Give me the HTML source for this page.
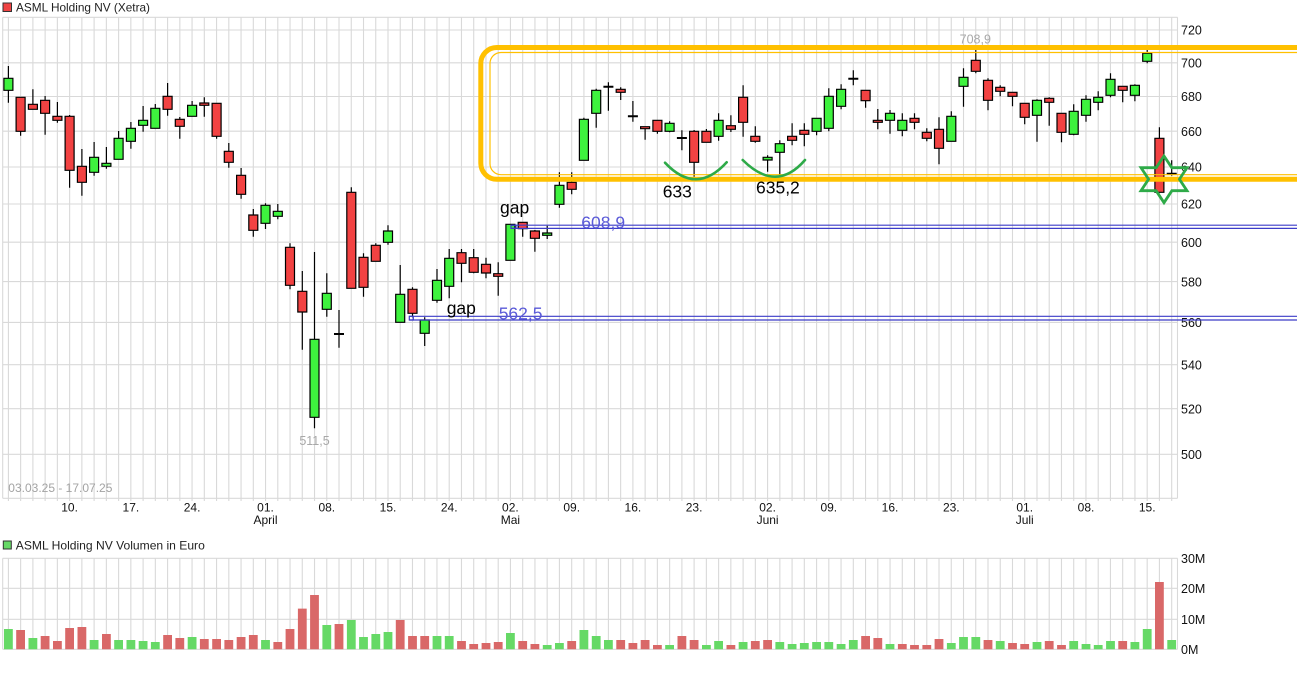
<!DOCTYPE html>
<html>
<head>
<meta charset="utf-8">
<style>
html,body{margin:0;padding:0;background:#fff;width:1297px;height:678px;overflow:hidden;}
svg{display:block;font-family:"Liberation Sans",Arial,sans-serif;}
</style>
</head>
<body>
<svg width="1297" height="678" viewBox="0 0 1297 678" xmlns="http://www.w3.org/2000/svg">
<rect width="1297" height="678" fill="#fff"/>
<rect x="3" y="3" width="8.5" height="8.5" fill="#f04343" stroke="#333" stroke-width="1"/>
<text x="16" y="11.3" font-size="12" fill="#222" textLength="134" lengthAdjust="spacingAndGlyphs">ASML Holding NV (Xetra)</text>
<rect x="3.3" y="541" width="8" height="8" fill="#66d966" stroke="#333" stroke-width="1"/>
<text x="15.8" y="549.3" font-size="12" fill="#222" textLength="189" lengthAdjust="spacingAndGlyphs">ASML Holding NV Volumen in Euro</text>

<g stroke="#d9d9d9" fill="none">
<line x1="7.85" y1="259.15" x2="1177" y2="259.15" stroke-width="483.7" stroke-dasharray="1.1 11.145"/>
<line x1="7.85" y1="603.8" x2="1177" y2="603.8" stroke-width="91" stroke-dasharray="1.1 11.145"/>
<path stroke-width="1.1" d="M2.7 17.3H1177.5M2.7 30H1177.5M2.7 62.8H1177.5M2.7 96.5H1177.5M2.7 131.2H1177.5M2.7 167H1177.5M2.7 204H1177.5M2.7 242.2H1177.5M2.7 281.6H1177.5M2.7 322.4H1177.5M2.7 364.7H1177.5M2.7 408.7H1177.5M2.7 454.3H1177.5M2.7 498.3H1177.5M2.7 17.3V498.3M1177.5 17.3V498.3M2.7 558.3H1177.5M2.7 588.3H1177.5M2.7 619.3H1177.5M2.7 649.3H1177.5M2.7 558.3V649.3M1177.5 558.3V649.3"/>
</g>

<g font-size="12.5" fill="#111">
<text x="1181" y="34.7">720</text>
<text x="1181" y="67.5">700</text>
<text x="1181" y="101.2">680</text>
<text x="1181" y="135.9">660</text>
<text x="1181" y="171.7">640</text>
<text x="1181" y="208.7">620</text>
<text x="1181" y="246.9">600</text>
<text x="1181" y="286.3">580</text>
<text x="1181" y="327.1">560</text>
<text x="1181" y="369.4">540</text>
<text x="1181" y="413.4">520</text>
<text x="1181" y="459">500</text>
<text x="1181" y="563.2">30M</text>
<text x="1181" y="593.2">20M</text>
<text x="1181" y="624.2">10M</text>
<text x="1181" y="654.2">0M</text>
</g>
<g font-size="12" fill="#111" text-anchor="middle">
<text x="69.6" y="511.7">10.</text>
<text x="130.9" y="511.7">17.</text>
<text x="192.1" y="511.7">24.</text>
<text x="265.5" y="511.7">01.</text>
<text x="326.8" y="511.7">08.</text>
<text x="388" y="511.7">15.</text>
<text x="449.2" y="511.7">24.</text>
<text x="510.4" y="511.7">02.</text>
<text x="571.7" y="511.7">09.</text>
<text x="632.9" y="511.7">16.</text>
<text x="694.1" y="511.7">23.</text>
<text x="767.6" y="511.7">02.</text>
<text x="828.8" y="511.7">09.</text>
<text x="890" y="511.7">16.</text>
<text x="951.3" y="511.7">23.</text>
<text x="1024.7" y="511.7">01.</text>
<text x="1086" y="511.7">08.</text>
<text x="1147.2" y="511.7">15.</text>
<text x="265.5" y="524">April</text>
<text x="510.4" y="524">Mai</text>
<text x="767.6" y="524">Juni</text>
<text x="1024.7" y="524">Juli</text>
</g>
<text x="8.3" y="492" font-size="12" fill="#a3a3a3">03.03.25 - 17.07.25</text>

<path fill="#66d966" d="M4 649.3v-20.3h8.8v20.3zM28.5 649.3v-11.3h8.8v11.3zM89.7 649.3v-9.3h8.8v9.3zM114.2 649.3v-9.3h8.8v9.3zM126.5 649.3v-9.3h8.8v9.3zM138.7 649.3v-8.3h8.8v8.3zM150.9 649.3v-7.3h8.8v7.3zM187.7 649.3v-12.3h8.8v12.3zM261.1 649.3v-9.3h8.8v9.3zM322.4 649.3v-24.3h8.8v24.3zM346.9 649.3v-29.3h8.8v29.3zM359.1 649.3v-12.3h8.8v12.3zM371.4 649.3v-15.3h8.8v15.3zM383.6 649.3v-17.3h8.8v17.3zM432.6 649.3v-13.3h8.8v13.3zM444.8 649.3v-13.3h8.8v13.3zM506 649.3v-16.3h8.8v16.3zM542.8 649.3v-4.3h8.8v4.3zM555 649.3v-6.3h8.8v6.3zM579.5 649.3v-19.3h8.8v19.3zM591.8 649.3v-13.3h8.8v13.3zM604 649.3v-9.3h8.8v9.3zM665.2 649.3v-4.3h8.8v4.3zM702 649.3v-4.3h8.8v4.3zM714.2 649.3v-8.3h8.8v8.3zM738.7 649.3v-7.3h8.8v7.3zM775.4 649.3v-7.3h8.8v7.3zM787.7 649.3v-5.3h8.8v5.3zM799.9 649.3v-6.3h8.8v6.3zM812.2 649.3v-7.3h8.8v7.3zM824.4 649.3v-7.3h8.8v7.3zM836.7 649.3v-5.3h8.8v5.3zM848.9 649.3v-9.3h8.8v9.3zM885.6 649.3v-5.3h8.8v5.3zM946.9 649.3v-6.3h8.8v6.3zM959.1 649.3v-12.3h8.8v12.3zM971.4 649.3v-12.3h8.8v12.3zM995.8 649.3v-8.3h8.8v8.3zM1032.6 649.3v-7.3h8.8v7.3zM1069.3 649.3v-8.3h8.8v8.3zM1081.6 649.3v-5.3h8.8v5.3zM1093.8 649.3v-4.3h8.8v4.3zM1106.1 649.3v-8.3h8.8v8.3zM1130.5 649.3v-7.3h8.8v7.3zM1142.8 649.3v-20.3h8.8v20.3zM1167.3 649.3v-9.3h8.8v9.3z"/>
<path fill="#d96868" d="M16.2 649.3v-19.3h8.8v19.3zM40.7 649.3v-13.3h8.8v13.3zM53 649.3v-8.3h8.8v8.3zM65.2 649.3v-21.3h8.8v21.3zM77.5 649.3v-22.3h8.8v22.3zM102 649.3v-15.3h8.8v15.3zM163.2 649.3v-14.3h8.8v14.3zM175.4 649.3v-11.3h8.8v11.3zM199.9 649.3v-10.3h8.8v10.3zM212.2 649.3v-10.3h8.8v10.3zM224.4 649.3v-9.3h8.8v9.3zM236.7 649.3v-12.3h8.8v12.3zM248.9 649.3v-14.3h8.8v14.3zM273.4 649.3v-7.3h8.8v7.3zM285.6 649.3v-20.3h8.8v20.3zM297.9 649.3v-40.7h8.8v40.7zM310.1 649.3v-54.3h8.8v54.3zM334.6 649.3v-25.3h8.8v25.3zM395.8 649.3v-29.3h8.8v29.3zM408.1 649.3v-13.3h8.8v13.3zM420.3 649.3v-13.3h8.8v13.3zM457.1 649.3v-8.3h8.8v8.3zM469.3 649.3v-5.3h8.8v5.3zM481.6 649.3v-6.3h8.8v6.3zM493.8 649.3v-7.3h8.8v7.3zM518.3 649.3v-8.3h8.8v8.3zM530.5 649.3v-5.3h8.8v5.3zM567.3 649.3v-8.3h8.8v8.3zM616.3 649.3v-9.3h8.8v9.3zM628.5 649.3v-6.3h8.8v6.3zM640.7 649.3v-9.3h8.8v9.3zM653 649.3v-4.3h8.8v4.3zM677.5 649.3v-13.3h8.8v13.3zM689.7 649.3v-9.3h8.8v9.3zM726.5 649.3v-4.3h8.8v4.3zM750.9 649.3v-8.3h8.8v8.3zM763.2 649.3v-9.3h8.8v9.3zM861.2 649.3v-13.3h8.8v13.3zM873.4 649.3v-11.3h8.8v11.3zM897.9 649.3v-5.3h8.8v5.3zM910.1 649.3v-4.3h8.8v4.3zM922.4 649.3v-4.3h8.8v4.3zM934.6 649.3v-10.3h8.8v10.3zM983.6 649.3v-9.3h8.8v9.3zM1008.1 649.3v-6.3h8.8v6.3zM1020.3 649.3v-5.3h8.8v5.3zM1044.8 649.3v-8.3h8.8v8.3zM1057.1 649.3v-4.3h8.8v4.3zM1118.3 649.3v-8.3h8.8v8.3zM1155 649.3v-67.3h8.8v67.3z"/>

<path fill="none" stroke="#000" stroke-width="1.2" d="M8.4 66V102.7M20.6 97.3V135.7M32.9 89.3V109.3M45.1 96V134.7M57.4 102V122.7M69.6 115V187.7M81.9 149V195.7M94.1 142V175.7M106.4 147V168.7M118.6 131V159.3M130.9 122V148.7M143.1 106V131.7M155.3 104V128.3M167.6 83V115.7M179.8 117V138.7M192.1 101V116.3M204.3 97.3V116.7M216.6 103.3V138.7M228.8 143V167.7M241.1 168V198.7M253.3 209V236.7M265.5 203.3V229M277.8 204V219.3M290 243.3V289.3M302.3 271V349.7M314.5 252V428.3M326.8 273.3V316.7M339 310V347.7M351.3 187.3V288.3M363.5 253.3V296.7M375.8 243.3V261.3M388 225.3V244.7M400.2 265V322.3M412.5 287.3V317.3M424.7 317.3V346M437 269V302.7M449.2 249V298.3M461.5 249V282.3M473.7 249V273.3M486 257.7V278.3M498.2 262.3V295.7M522.7 222.3V236.7M534.9 230V251.7M547.2 225.7V239M559.4 172.3V207.7M571.7 172.3V194.3M583.9 117.7V160.3M596.2 88.7V127.7M608.4 82.3V110.7M620.7 87.3V100M632.9 101V121.7M645.1 126.7V139.7M657.4 120.3V133.7M669.6 121.3V132.3M681.9 130.3V150.3M694.1 130V176.7M706.4 129V142.3M718.6 113.3V140.7M730.9 115.3V132M743.1 85.3V136.7M755.3 126.3V142.7M767.6 155.3V171.7M779.8 140.3V176.7M792.1 123.3V145.3M804.3 123.3V146.3M816.6 118.3V135.3M828.8 88.3V131.3M841.1 84.3V109.3M853.3 70.3V85.3M865.6 90.3V107.7M877.8 109V129.3M890 110V133.7M902.3 113.3V136.3M914.5 113.3V129.3M926.8 128.3V141.3M939 117.3V164.3M951.3 111.3V141.3M963.5 68.3V106.7M975.8 50V73.3M988 78.3V110.3M1000.2 85.3V96.3M1012.5 92.3V106.3M1024.7 103.3V124.3M1037 99.3V141.7M1049.2 97.3V125.7M1061.5 113.3V142.3M1073.7 104.3V135.3M1086 95.3V121.7M1098.2 91.3V110.3M1110.5 73.3V97.3M1122.7 86.3V102.3M1134.9 84.3V101.3M1147.2 50V63.3M1159.4 127.3V192.3M1171.7 160.3V175.7"/>
<path fill="none" stroke="#000" stroke-width="2" d="M334 334H344M603.4 86.7H613.4M627.9 116.3H637.9M676.9 138H686.9M848.3 78.7H858.3M1166.7 173.7H1176.7"/>

<path fill="#f24242" stroke="#000" stroke-width="1.2" d="M16.1 97.3h9v34h-9zM28.4 104.3h9v5h-9zM40.6 100.3h9v13h-9zM52.9 116.3h9v4h-9zM65.1 116.3h9v54h-9zM77.4 166.3h9v16h-9zM163.1 96.3h9v13h-9zM175.3 119.3h9v7h-9zM199.8 103h9v2.3h-9zM212.1 103.3h9v33h-9zM224.3 151.3h9v11h-9zM236.6 175.3h9v19h-9zM248.8 215h9v15.3h-9zM285.5 247.3h9v38h-9zM297.8 291.3h9v20.7h-9zM346.8 192.3h9v96h-9zM359 257.3h9v30h-9zM371.3 245.3h9v16h-9zM408 289.3h9v24h-9zM457 252.7h9v10.6h-9zM469.2 257.7h9v14.6h-9zM481.5 264.3h9v8.7h-9zM493.7 273.7h9v2.6h-9zM518.2 222.3h9v6.4h-9zM530.4 231h9v7.3h-9zM567.2 182.3h9v7h-9zM616.2 89.3h9v3h-9zM640.6 126.7h9v2h-9zM652.9 120.3h9v11h-9zM689.6 131.3h9v31h-9zM701.9 131.3h9v11h-9zM726.4 125.7h9v3.6h-9zM738.6 97.3h9v25h-9zM750.8 136.3h9v5h-9zM787.6 136.3h9v4h-9zM799.8 130.3h9v4h-9zM861.1 90.3h9v10.4h-9zM873.3 120.3h9v2h-9zM910 118.3h9v4h-9zM922.3 132.3h9v6h-9zM934.5 129.3h9v19h-9zM971.3 60.3h9v11h-9zM983.5 80.3h9v20h-9zM995.7 87.3h9v4h-9zM1008 92.3h9v4h-9zM1020.2 103.3h9v14h-9zM1044.7 98.3h9v4h-9zM1057 113.3h9v19h-9zM1118.2 86.3h9v4h-9zM1154.9 138.3h9v54h-9z"/>
<path fill="#3ef23e" stroke="#000" stroke-width="1.2" d="M3.9 78.3h9v12h-9zM89.6 157.3h9v15h-9zM101.9 163.3h9v3h-9zM114.1 138.3h9v21h-9zM126.4 128.3h9v13h-9zM138.6 120.3h9v5h-9zM150.8 108.3h9v20h-9zM187.6 105.3h9v11h-9zM261 205.3h9v18h-9zM273.3 211.3h9v5h-9zM310 339.3h9v78h-9zM322.3 293.3h9v16h-9zM383.5 231h9v11.3h-9zM395.7 294.3h9v28h-9zM420.2 320h9v13.3h-9zM432.5 280.3h9v20h-9zM444.7 258.3h9v28h-9zM505.9 224.3h9v36h-9zM542.7 233h9v2.3h-9zM554.9 185.3h9v19h-9zM579.4 119.3h9v41h-9zM591.7 90.3h9v23h-9zM665.1 123.3h9v8h-9zM714.1 120.3h9v16h-9zM763.1 157.3h9v2.7h-9zM775.3 143.7h9v8.6h-9zM812.1 118.3h9v13h-9zM824.3 96.3h9v32h-9zM836.6 89.3h9v17h-9zM885.5 113.3h9v7h-9zM897.8 120.3h9v10h-9zM946.8 116.3h9v25h-9zM959 77.3h9v9h-9zM1032.5 100.3h9v15h-9zM1069.2 111.3h9v23h-9zM1081.5 99.3h9v16h-9zM1093.7 97.3h9v5h-9zM1106 79.3h9v16h-9zM1130.4 85.3h9v10h-9zM1142.7 53.3h9v8h-9z"/>

<text x="314.5" y="445" font-size="12.5" fill="#a8a8a8" text-anchor="middle">511,5</text>
<text x="975.3" y="43.3" font-size="12.5" fill="#a8a8a8" text-anchor="middle">708,9</text>

<rect x="480.8" y="47.5" width="850" height="131.8" rx="16" ry="16" fill="none" stroke="#ffc000" stroke-width="5"/>
<rect x="490" y="52.5" width="840" height="122.2" rx="11" ry="11" fill="none" stroke="#ffc000" stroke-width="1.2"/>

<g stroke="#3c3cc8" stroke-width="1.2" fill="none">
<path d="M511 225.2H1297M511 228.4H1297M409.3 316.3H1297M409.3 320H1297"/>
<rect x="511" y="225.2" width="5" height="3.2"/>
<rect x="409.3" y="316.3" width="4" height="3.7"/>
</g>
<text x="581.3" y="228.3" font-size="17.5" fill="#5a5ad8">608,9</text>
<text x="498.7" y="319.5" font-size="17.5" fill="#5a5ad8">562,5</text>
<text x="500" y="213.5" font-size="17.5" fill="#000">gap</text>
<text x="446.7" y="314" font-size="17.5" fill="#000">gap</text>

<g stroke="#2eaa48" stroke-width="2.6" fill="none" stroke-linecap="round">
<path d="M665 162.7Q696.2 196 726.7 162.3"/>
<path d="M742.7 160Q776.2 193.4 805 160"/>
</g>
<text x="662.7" y="197.3" font-size="17.5" fill="#000">633</text>
<text x="756" y="193.3" font-size="17.5" fill="#000">635,2</text>
<polygon points="1164,156 1171.8,167.7 1187,167.7 1179.4,179.2 1187,190.7 1171.9,190.7 1164,202.7 1156.1,190.7 1141,190.7 1148.6,179.2 1141,167.7 1156.2,167.7" fill="none" stroke="#2eaa48" stroke-width="2.8"/>
</svg>
</body>
</html>
